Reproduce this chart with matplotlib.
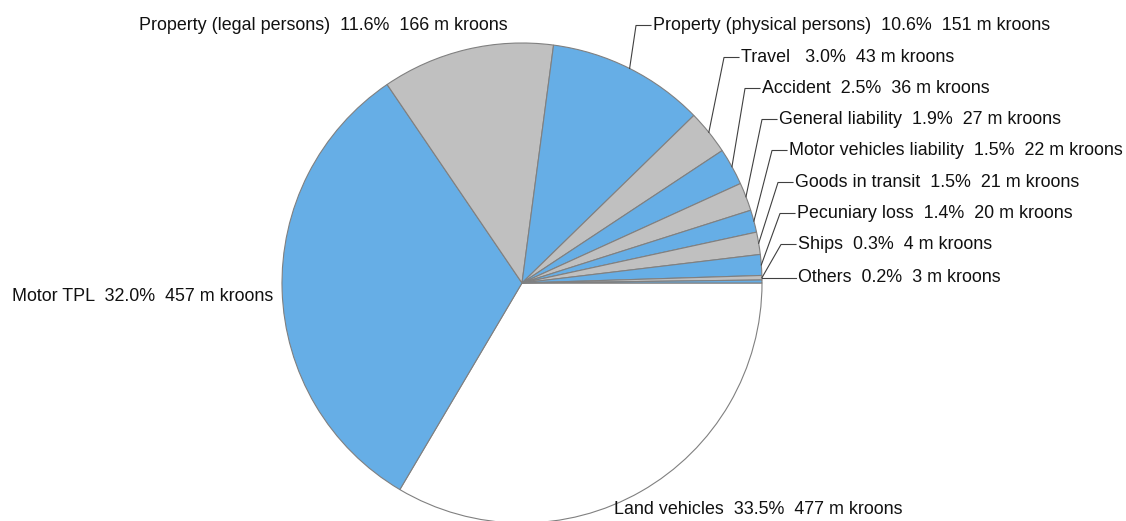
import matplotlib.pyplot as plt
import numpy as np

plt.rcParams['font.family'] = ['Liberation Sans', 'DejaVu Sans']

# data
categories = ['Land vehicles', 'Motor TPL', 'Property (legal persons)',
              'Property (physical persons)', 'Travel', 'Accident',
              'General liability', 'Motor vehicles liability',
              'Goods in transit', 'Pecuniary loss', 'Ships', 'Others']
shares = [33.5, 32.0, 11.6, 10.6, 3.0, 2.5, 1.9, 1.5, 1.5, 1.4, 0.3, 0.2]
amounts = [477, 457, 166, 151, 43, 36, 27, 22, 21, 20, 4, 3]

W, H = 1126, 521
cx, cy, R = 522, H - 283, 240

blue = '#66aee6'
gray = '#c0c0c0'
colors = ['white'] + [blue if i % 2 == 0 else gray for i in range(len(shares) - 1)]

fig = plt.figure(figsize=(W / 100, H / 100), dpi=100)
ax = fig.add_axes([0, 0, 1, 1])

wedges, _ = ax.pie(shares, colors=colors, startangle=0, counterclock=False,
                   center=(cx, cy), radius=R,
                   wedgeprops=dict(edgecolor='#808080', linewidth=0.8))
ax.set_xlim(0, W)
ax.set_ylim(0, H)
ax.set_aspect('equal')
ax.axis('off')

# label placement (left x, centre y from top), and whether a leader is drawn
label_pos = [(614, 509.5, False), (12, 296.5, False), (139, 25.5, False),
             (653, 25.5, True), (741, 57.5, True), (762, 88.5, True),
             (779, 119.5, True), (789, 150.5, True), (795, 182.5, True),
             (797, 213.5, True), (798, 244.5, True), (798, 277.5, True)]

for i, (w, (tx, ty, leader)) in enumerate(zip(wedges, label_pos)):
    gap = '   ' if categories[i] == 'Travel' else '  '
    txt = f'{categories[i]}{gap}{shares[i]:.1f}%  {amounts[i]} m kroons'
    ty = H - ty
    ax.text(tx, ty, txt, fontsize=12.9, color='#111111', ha='left', va='center')
    if leader:
        mid = np.deg2rad((w.theta1 + w.theta2) / 2)
        px, py = cx + R * np.cos(mid), cy + R * np.sin(mid)
        if categories[i] == 'Others':
            ax.plot([px, tx - 2], [ty, ty], color='#404040', lw=0.8)
        else:
            ax.plot([px, tx - 17, tx - 2], [py, ty, ty], color='#404040', lw=0.8)

fig.savefig('out.png', dpi=100)
